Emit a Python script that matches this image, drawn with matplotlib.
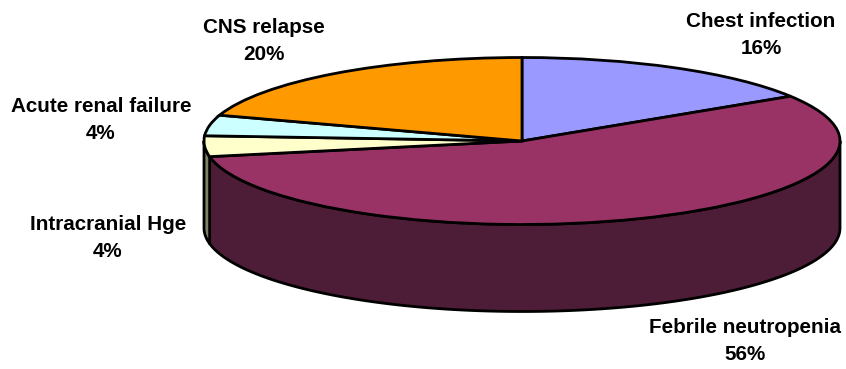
import numpy as np
import matplotlib
matplotlib.use("Agg")
import matplotlib.pyplot as plt

plt.rcParams['font.family'] = ['Liberation Sans', 'DejaVu Sans']

# values
categorias = ["Chest infection", "Febrile neutropenia", "Intracranial Hge", "Acute renal failure", "CNS relapse"]
valores = [16, 56, 4, 4, 20]
cores = ["#9999FF", "#993366", "#FFFFCC", "#CCFFFF", "#FF9900"]
cores_lado = ["#4D1A33", "#4D1C36", "#80806A", "#668080", "#804D00"]

# geometry in pixels
W, H = 846, 369
cx, cy = 522, 141
rx, ry = 318, 83.5
prof = 87

# label centres in pixels
pos_rotulos = [(761, 35), (745, 341), (108, 238), (101, 120), (264, 41)]

fig = plt.figure(figsize=(W / 100, H / 100), dpi=100)
ax = fig.add_axes([0, 0, 1, 1])

ax.pie(valores, colors=cores, startangle=90, counterclock=False, radius=1,
       wedgeprops=dict(edgecolor="black", linewidth=2.0))

# the pie sets equal aspect, squash it into the ellipse
ax.set_aspect("auto")
ax.set_xlim(-cx / rx, (W - cx) / rx)
ax.set_ylim((cy - H) / ry, cy / ry)
ax.axis("off")

# side wall: only the front part of each slice is visible
d = prof / ry
limites = np.cumsum([0] + valores) / sum(valores) * 360
for i in range(len(valores)):
    a0 = max(limites[i], 90)
    a1 = min(limites[i + 1], 270)
    if a1 <= a0:
        continue
    t = np.radians(np.linspace(a0, a1, 120))
    x = np.sin(t)
    y = np.cos(t)
    xs = np.concatenate([x, x[::-1]])
    ys = np.concatenate([y, y[::-1] - d])
    ax.fill(xs, ys, facecolor=cores_lado[i], edgecolor="black", linewidth=2.0,
            zorder=0.5, joinstyle="round")

for nome, v, (px, py) in zip(categorias, valores, pos_rotulos):
    fig.text(px / W, 1 - py / H, f"{nome}\n{v}%", ha="center", va="center",
             fontsize=14.9, fontweight="bold", color="black", linespacing=1.55)

fig.savefig("out.png", dpi=100, facecolor="white")
